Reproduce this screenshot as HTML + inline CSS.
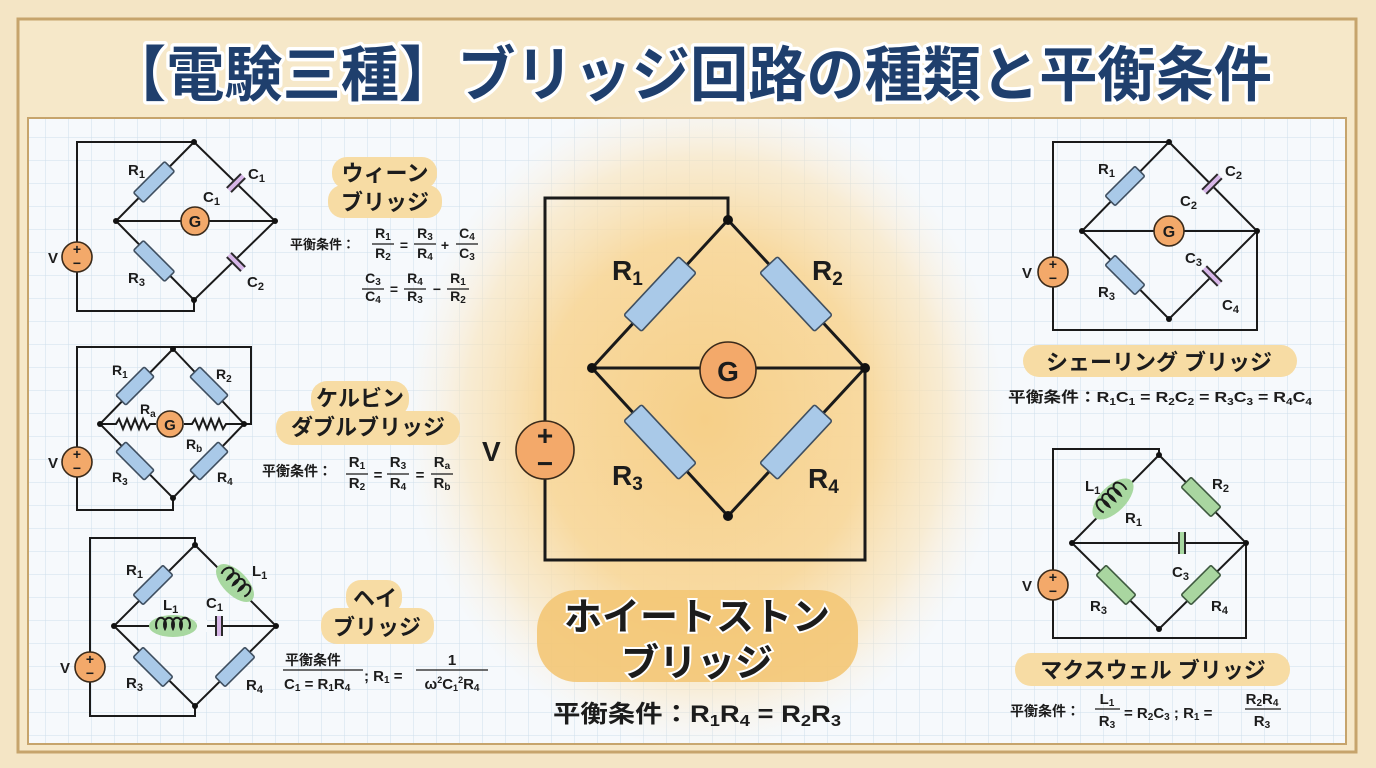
<!DOCTYPE html>
<html><head><meta charset="utf-8"><style>
html,body{margin:0;padding:0;background:#f4e5c5;}
svg{display:block;}
text{font-family:"Liberation Sans","Noto Sans CJK JP",sans-serif;font-weight:bold;fill:#1c1c1c;}
.w{stroke:#1a1a1a;stroke-width:2;fill:none;}
.W{stroke:#1a1a1a;stroke-width:3;fill:none;}
.res{fill:#a9c9e8;stroke:#3f4f60;stroke-width:1.6;}
.gres{fill:#a9d6a0;stroke:#3f5a40;stroke-width:1.6;}
.org{fill:#f3a96a;stroke:#3a2a1a;stroke-width:1.6;}
.cap{stroke:#2a2a2a;stroke-width:2;}
.pill{fill:#f7dca4;}
</style></head><body>
<svg width="1376" height="768" viewBox="0 0 1376 768" xmlns="http://www.w3.org/2000/svg">
<defs>
<pattern id="grid" width="23" height="23" patternUnits="userSpaceOnUse">
<rect width="23" height="23" fill="#f6f9fc"/>
<path d="M23 0V23M0 23H23" stroke="#cfdeeb" stroke-width="1" fill="none"/>
</pattern>
<radialGradient id="glow" cx="0.5" cy="0.5" r="0.5">
<stop offset="0" stop-color="#f6cf88"/>
<stop offset="0.55" stop-color="#f8d89c" stop-opacity="0.95"/>
<stop offset="0.8" stop-color="#f9e3b8" stop-opacity="0.6"/>
<stop offset="1" stop-color="#fbeedb" stop-opacity="0"/>
</radialGradient>
</defs>
<rect width="1376" height="768" fill="#f4e5c5"/>
<rect x="18" y="19" width="1338" height="733" fill="#f6e8c9" stroke="#c6a46c" stroke-width="3"/>
<rect x="28" y="118" width="1318" height="626" fill="url(#grid)" stroke="#c6a46c" stroke-width="2"/>
<ellipse cx="705" cy="420" rx="300" ry="330" fill="url(#glow)"/>

<!-- Title -->
<text x="690" y="96" text-anchor="middle" font-size="60" textLength="1164" lengthAdjust="spacingAndGlyphs" style="fill:#1f3f6d;stroke:#ffffff;stroke-width:7;paint-order:stroke;stroke-linejoin:round">【電験三種】ブリッジ回路の種類と平衡条件</text>

<!-- ===== MAIN Wheatstone ===== -->
<g>
<polyline class="W" points="728,220 728,198 545,198 545,560 865,560 865,368"/>
<polyline class="W" points="728,220 592,368 728,516 865,368 728,220"/>
<line class="W" x1="592" y1="368" x2="865" y2="368"/>
<circle cx="728" cy="220" r="5" fill="#111"/><circle cx="592" cy="368" r="5" fill="#111"/>
<circle cx="865" cy="368" r="5" fill="#111"/><circle cx="728" cy="516" r="5" fill="#111"/>
<g transform="translate(660,294) rotate(-47)"><rect class="res" x="-40" y="-12" width="80" height="24" rx="2"/></g>
<g transform="translate(796,294) rotate(47)"><rect class="res" x="-40" y="-12" width="80" height="24" rx="2"/></g>
<g transform="translate(660,442) rotate(47)"><rect class="res" x="-40" y="-12" width="80" height="24" rx="2"/></g>
<g transform="translate(796,442) rotate(-47)"><rect class="res" x="-40" y="-12" width="80" height="24" rx="2"/></g>
<circle class="org" cx="728" cy="370" r="28" stroke-width="2"/>
<text x="728" y="381" text-anchor="middle" font-size="28">G</text>
<circle class="org" cx="545" cy="450" r="29" stroke-width="2"/>
<text x="545" y="445" text-anchor="middle" font-size="28">+</text>
<text x="545" y="473" text-anchor="middle" font-size="28">−</text>
<text x="482" y="461" font-size="28">V</text>
<text x="612" y="280" font-size="28">R<tspan font-size="19" dy="5">1</tspan></text>
<text x="812" y="280" font-size="28">R<tspan font-size="19" dy="5">2</tspan></text>
<text x="612" y="485" font-size="28">R<tspan font-size="19" dy="5">3</tspan></text>
<text x="808" y="488" font-size="28">R<tspan font-size="19" dy="5">4</tspan></text>
<rect x="537" y="590" width="321" height="92" rx="40" fill="#f3c675" opacity="0.9"/>
<text x="697" y="630" text-anchor="middle" font-size="38" style="stroke:#fff;stroke-width:4;paint-order:stroke">ホイートストン</text>
<text x="697" y="676" text-anchor="middle" font-size="38" style="stroke:#fff;stroke-width:4;paint-order:stroke">ブリッジ</text>
<text x="553" y="722" font-size="24" textLength="288" lengthAdjust="spacingAndGlyphs">平衡条件：R<tspan font-size="16" dy="4">1</tspan><tspan dy="-4">R</tspan><tspan font-size="16" dy="4">4</tspan><tspan dy="-4"> = R</tspan><tspan font-size="16" dy="4">2</tspan><tspan dy="-4">R</tspan><tspan font-size="16" dy="4">3</tspan></text>
</g>

<!-- ===== Wien ===== -->
<g>
<polyline class="w" points="194,142 77,142 77,311 194,311 194,300"/>
<polyline class="w" points="194,142 116,221 194,300 275,221 194,142"/>
<line class="w" x1="116" y1="221" x2="275" y2="221"/>
<circle cx="194" cy="142" r="3" fill="#111"/><circle cx="116" cy="221" r="3" fill="#111"/><circle cx="275" cy="221" r="3" fill="#111"/><circle cx="194" cy="300" r="3" fill="#111"/>
<g transform="translate(154,182) rotate(-45)"><rect class="res" x="-22" y="-7" width="44" height="14" rx="1.5"/></g>
<g transform="translate(154,261) rotate(45)"><rect class="res" x="-22" y="-7" width="44" height="14" rx="1.5"/></g>
<g transform="translate(236,183) rotate(45)"><rect x="-4" y="-10" width="8" height="20" fill="#d7b6e8"/><line class="cap" x1="-3" y1="-10" x2="-3" y2="10"/><line class="cap" x1="3" y1="-10" x2="3" y2="10"/></g>
<g transform="translate(236,262) rotate(-45)"><rect x="-4" y="-10" width="8" height="20" fill="#d7b6e8"/><line class="cap" x1="-3" y1="-10" x2="-3" y2="10"/><line class="cap" x1="3" y1="-10" x2="3" y2="10"/></g>
<circle class="org" cx="195" cy="221" r="14"/><text x="195" y="227" text-anchor="middle" font-size="16">G</text>
<circle class="org" cx="77" cy="257" r="15"/><text x="77" y="254" text-anchor="middle" font-size="14">+</text><text x="77" y="268" text-anchor="middle" font-size="14">−</text>
<text x="48" y="263" font-size="15">V</text>
<text x="128" y="175" font-size="15">R<tspan font-size="11" dy="3">1</tspan></text>
<text x="248" y="179" font-size="15">C<tspan font-size="11" dy="3">1</tspan></text>
<text x="203" y="202" font-size="15">C<tspan font-size="11" dy="3">1</tspan></text>
<text x="128" y="283" font-size="15">R<tspan font-size="11" dy="3">3</tspan></text>
<text x="247" y="287" font-size="15">C<tspan font-size="11" dy="3">2</tspan></text>
<rect x="332" y="157" width="105" height="32" rx="15" class="pill"/>
<rect x="328" y="185" width="114" height="33" rx="15" class="pill"/>
<text x="385" y="181" text-anchor="middle" font-size="22">ウィーン</text>
<text x="385" y="210" text-anchor="middle" font-size="22">ブリッジ</text>
<text x="290" y="249" font-size="13">平衡条件：</text>
<g font-size="14" text-anchor="middle">
<text x="383" y="238">R<tspan font-size="10" dy="2">1</tspan></text><text x="383" y="258">R<tspan font-size="10" dy="2">2</tspan></text>
<text x="404" y="250">=</text>
<text x="425" y="238">R<tspan font-size="10" dy="2">3</tspan></text><text x="425" y="258">R<tspan font-size="10" dy="2">4</tspan></text>
<text x="445" y="250">+</text>
<text x="467" y="238">C<tspan font-size="10" dy="2">4</tspan></text><text x="467" y="258">C<tspan font-size="10" dy="2">3</tspan></text>
<text x="373" y="283">C<tspan font-size="10" dy="2">3</tspan></text><text x="373" y="301">C<tspan font-size="10" dy="2">4</tspan></text>
<text x="394" y="294">=</text>
<text x="415" y="283">R<tspan font-size="10" dy="2">4</tspan></text><text x="415" y="301">R<tspan font-size="10" dy="2">3</tspan></text>
<text x="437" y="294">−</text>
<text x="458" y="283">R<tspan font-size="10" dy="2">1</tspan></text><text x="458" y="301">R<tspan font-size="10" dy="2">2</tspan></text>
</g>
<g stroke="#1a1a1a" stroke-width="1.3"><line x1="372" y1="244" x2="394" y2="244"/><line x1="414" y1="244" x2="436" y2="244"/><line x1="456" y1="244" x2="478" y2="244"/>
<line x1="362" y1="289" x2="384" y2="289"/><line x1="404" y1="289" x2="426" y2="289"/><line x1="447" y1="289" x2="469" y2="289"/></g>
</g>

<!-- ===== Kelvin ===== -->
<g>
<polyline class="w" points="77,447 77,347 251,347 251,424 244,424"/>
<polyline class="w" points="77,477 77,510 173,510 173,498"/>
<polyline class="w" points="173,349 100,424 173,498 244,424 173,349"/>
<polyline class="w" points="100,424 116,424 119,419 123,429 127,419 131,429 135,419 139,429 143,419 147,429 150,424 156,424"/>
<polyline class="w" points="184,424 192,424 195,419 199,429 203,419 207,429 211,419 215,429 219,419 223,429 226,424 244,424"/>
<circle cx="173" cy="349" r="3" fill="#111"/><circle cx="100" cy="424" r="3" fill="#111"/><circle cx="244" cy="424" r="3" fill="#111"/><circle cx="173" cy="498" r="3" fill="#111"/>
<g transform="translate(135,386) rotate(-45)"><rect class="res" x="-20" y="-7" width="40" height="14" rx="1.5"/></g>
<g transform="translate(209,386) rotate(45)"><rect class="res" x="-20" y="-7" width="40" height="14" rx="1.5"/></g>
<g transform="translate(135,461) rotate(45)"><rect class="res" x="-20" y="-7" width="40" height="14" rx="1.5"/></g>
<g transform="translate(209,461) rotate(-45)"><rect class="res" x="-20" y="-7" width="40" height="14" rx="1.5"/></g>
<circle class="org" cx="170" cy="424" r="13"/><text x="170" y="430" text-anchor="middle" font-size="15">G</text>
<circle class="org" cx="77" cy="462" r="15"/><text x="77" y="459" text-anchor="middle" font-size="14">+</text><text x="77" y="473" text-anchor="middle" font-size="14">−</text>
<text x="48" y="468" font-size="15">V</text>
<text x="112" y="375" font-size="14">R<tspan font-size="10" dy="3">1</tspan></text>
<text x="216" y="379" font-size="14">R<tspan font-size="10" dy="3">2</tspan></text>
<text x="140" y="414" font-size="14">R<tspan font-size="10" dy="3">a</tspan></text>
<text x="186" y="449" font-size="14">R<tspan font-size="10" dy="3">b</tspan></text>
<text x="112" y="482" font-size="14">R<tspan font-size="10" dy="3">3</tspan></text>
<text x="217" y="482" font-size="14">R<tspan font-size="10" dy="3">4</tspan></text>
<rect x="311" y="381" width="98" height="36" rx="16" class="pill"/>
<rect x="276" y="411" width="184" height="34" rx="16" class="pill"/>
<text x="360" y="406" text-anchor="middle" font-size="22">ケルビン</text>
<text x="368" y="435" text-anchor="middle" font-size="22">ダブルブリッジ</text>
<text x="262" y="476" font-size="14">平衡条件：</text>
<g font-size="15" text-anchor="middle">
<text x="357" y="467">R<tspan font-size="10" dy="2">1</tspan></text><text x="357" y="488">R<tspan font-size="10" dy="2">2</tspan></text>
<text x="378" y="480">=</text>
<text x="398" y="467">R<tspan font-size="10" dy="2">3</tspan></text><text x="398" y="488">R<tspan font-size="10" dy="2">4</tspan></text>
<text x="420" y="480">=</text>
<text x="442" y="467">R<tspan font-size="10" dy="2">a</tspan></text><text x="442" y="488">R<tspan font-size="10" dy="2">b</tspan></text>
</g>
<g stroke="#1a1a1a" stroke-width="1.3"><line x1="346" y1="474" x2="368" y2="474"/><line x1="387" y1="474" x2="409" y2="474"/><line x1="431" y1="474" x2="453" y2="474"/></g>
</g>

<!-- ===== Hay ===== -->
<g>
<polyline class="w" points="195,545 195,538 90,538 90,716 195,716 195,706"/>
<polyline class="w" points="195,545 114,626 195,706 276,626 195,545"/>
<line class="w" x1="114" y1="626" x2="276" y2="626"/>
<circle cx="195" cy="545" r="3" fill="#111"/><circle cx="114" cy="626" r="3" fill="#111"/><circle cx="276" cy="626" r="3" fill="#111"/><circle cx="195" cy="706" r="3" fill="#111"/>
<g transform="translate(153,585) rotate(-45)"><rect class="res" x="-21" y="-7" width="42" height="14" rx="1.5"/></g>
<g transform="translate(153,667) rotate(45)"><rect class="res" x="-21" y="-7" width="42" height="14" rx="1.5"/></g>
<g transform="translate(235,667) rotate(-45)"><rect class="res" x="-21" y="-7" width="42" height="14" rx="1.5"/></g>
<g transform="translate(235,583) rotate(45)"><ellipse rx="24" ry="12" fill="#a8d8a0"/><path class="w" stroke-width="1.6" d="M-16,3 a5,7 0 1 1 8,0 a5,7 0 1 1 8,0 a5,7 0 1 1 8,0 a5,7 0 1 1 8,0"/></g>
<g transform="translate(173,626)"><ellipse rx="24" ry="11" fill="#a8d8a0"/><path class="w" stroke-width="1.6" d="M-16,3 a5,7 0 1 1 8,0 a5,7 0 1 1 8,0 a5,7 0 1 1 8,0 a5,7 0 1 1 8,0"/></g>
<rect x="197" y="620" width="10" height="12" fill="#f6f9fc"/>
<g transform="translate(219,626)"><rect x="-4" y="-10" width="8" height="20" fill="#d7b6e8"/><line class="cap" x1="-3" y1="-10" x2="-3" y2="10"/><line class="cap" x1="3" y1="-10" x2="3" y2="10"/></g>
<circle class="org" cx="90" cy="667" r="15"/><text x="90" y="664" text-anchor="middle" font-size="14">+</text><text x="90" y="678" text-anchor="middle" font-size="14">−</text>
<text x="60" y="673" font-size="15">V</text>
<text x="126" y="575" font-size="15">R<tspan font-size="11" dy="3">1</tspan></text>
<text x="252" y="576" font-size="15">L<tspan font-size="11" dy="3">1</tspan></text>
<text x="163" y="610" font-size="15">L<tspan font-size="11" dy="3">1</tspan></text>
<text x="206" y="608" font-size="15">C<tspan font-size="11" dy="3">1</tspan></text>
<text x="126" y="688" font-size="15">R<tspan font-size="11" dy="3">3</tspan></text>
<text x="246" y="690" font-size="15">R<tspan font-size="11" dy="3">4</tspan></text>
<rect x="346" y="580" width="56" height="34" rx="15" class="pill"/>
<rect x="321" y="608" width="113" height="36" rx="16" class="pill"/>
<text x="375" y="606" text-anchor="middle" font-size="22">ヘイ</text>
<text x="377" y="635" text-anchor="middle" font-size="22">ブリッジ</text>
<text x="285" y="665" font-size="14">平衡条件</text>
<line x1="283" y1="670" x2="363" y2="670" stroke="#1a1a1a" stroke-width="1.3"/>
<text x="284" y="689" font-size="15">C<tspan font-size="10" dy="2">1</tspan><tspan dy="-2"> = R</tspan><tspan font-size="10" dy="2">1</tspan><tspan dy="-2">R</tspan><tspan font-size="10" dy="2">4</tspan></text>
<text x="364" y="681" font-size="15">; R<tspan font-size="10" dy="2">1</tspan><tspan dy="-2"> =</tspan></text>
<text x="452" y="665" text-anchor="middle" font-size="15">1</text>
<line x1="416" y1="670" x2="488" y2="670" stroke="#1a1a1a" stroke-width="1.3"/>
<text x="452" y="689" text-anchor="middle" font-size="15">ω<tspan font-size="9" dy="-6">2</tspan><tspan dy="6">C</tspan><tspan font-size="9" dy="2">1</tspan><tspan font-size="9" dy="-8">2</tspan><tspan dy="6">R</tspan><tspan font-size="10" dy="2">4</tspan></text>
</g>

<!-- ===== Schering ===== -->
<g>
<polyline class="w" points="1169,142 1053,142 1053,330 1257,330 1257,231"/>
<polyline class="w" points="1169,142 1082,231 1169,319 1257,231 1169,142"/>
<line class="w" x1="1082" y1="231" x2="1257" y2="231"/>
<circle cx="1169" cy="142" r="3" fill="#111"/><circle cx="1082" cy="231" r="3" fill="#111"/><circle cx="1257" cy="231" r="3" fill="#111"/><circle cx="1169" cy="319" r="3" fill="#111"/>
<g transform="translate(1125,186) rotate(-45)"><rect class="res" x="-21" y="-7" width="42" height="14" rx="1.5"/></g>
<g transform="translate(1125,275) rotate(45)"><rect class="res" x="-21" y="-7" width="42" height="14" rx="1.5"/></g>
<g transform="translate(1212,184) rotate(45)"><rect x="-4" y="-11" width="8" height="22" fill="#d7b6e8"/><line class="cap" x1="-3" y1="-11" x2="-3" y2="11"/><line class="cap" x1="3" y1="-11" x2="3" y2="11"/></g>
<g transform="translate(1212,276) rotate(-45)"><rect x="-4" y="-11" width="8" height="22" fill="#d7b6e8"/><line class="cap" x1="-3" y1="-11" x2="-3" y2="11"/><line class="cap" x1="3" y1="-11" x2="3" y2="11"/></g>
<circle class="org" cx="1169" cy="231" r="15"/><text x="1169" y="237" text-anchor="middle" font-size="16">G</text>
<circle class="org" cx="1053" cy="272" r="15"/><text x="1053" y="269" text-anchor="middle" font-size="14">+</text><text x="1053" y="283" text-anchor="middle" font-size="14">−</text>
<text x="1022" y="278" font-size="15">V</text>
<text x="1098" y="174" font-size="15">R<tspan font-size="11" dy="3">1</tspan></text>
<text x="1225" y="176" font-size="15">C<tspan font-size="11" dy="3">2</tspan></text>
<text x="1180" y="206" font-size="15">C<tspan font-size="11" dy="3">2</tspan></text>
<text x="1185" y="263" font-size="15">C<tspan font-size="11" dy="3">3</tspan></text>
<text x="1222" y="310" font-size="15">C<tspan font-size="11" dy="3">4</tspan></text>
<text x="1098" y="297" font-size="15">R<tspan font-size="11" dy="3">3</tspan></text>
<rect x="1023" y="345" width="274" height="32" rx="16" class="pill"/>
<text x="1159" y="370" text-anchor="middle" font-size="22">シェーリング ブリッジ</text>
<text x="1008" y="402" font-size="15" textLength="304" lengthAdjust="spacingAndGlyphs">平衡条件：R<tspan font-size="10" dy="3">1</tspan><tspan dy="-3">C</tspan><tspan font-size="10" dy="3">1</tspan><tspan dy="-3"> = R</tspan><tspan font-size="10" dy="3">2</tspan><tspan dy="-3">C</tspan><tspan font-size="10" dy="3">2</tspan><tspan dy="-3"> = R</tspan><tspan font-size="10" dy="3">3</tspan><tspan dy="-3">C</tspan><tspan font-size="10" dy="3">3</tspan><tspan dy="-3"> = R</tspan><tspan font-size="10" dy="3">4</tspan><tspan dy="-3">C</tspan><tspan font-size="10" dy="3">4</tspan></text>
</g>

<!-- ===== Maxwell ===== -->
<g>
<polyline class="w" points="1159,455 1159,449 1053,449 1053,638 1246,638 1246,543"/>
<polyline class="w" points="1159,455 1072,543 1159,629 1246,543 1159,455"/>
<line class="w" x1="1072" y1="543" x2="1246" y2="543"/>
<circle cx="1159" cy="455" r="3" fill="#111"/><circle cx="1072" cy="543" r="3" fill="#111"/><circle cx="1246" cy="543" r="3" fill="#111"/><circle cx="1159" cy="629" r="3" fill="#111"/>
<g transform="translate(1113,499) rotate(-45)"><ellipse rx="26" ry="13" fill="#a8d8a0"/><path class="w" stroke-width="1.6" d="M-16,3 a5,8 0 1 1 8,0 a5,8 0 1 1 8,0 a5,8 0 1 1 8,0 a5,8 0 1 1 8,0"/></g>
<g transform="translate(1201,497) rotate(45)"><rect class="gres" x="-21" y="-7" width="42" height="14" rx="1.5"/></g>
<g transform="translate(1116,585) rotate(45)"><rect class="gres" x="-21" y="-7" width="42" height="14" rx="1.5"/></g>
<g transform="translate(1201,585) rotate(-45)"><rect class="gres" x="-21" y="-7" width="42" height="14" rx="1.5"/></g>
<g transform="translate(1182,543)"><rect x="-4" y="-11" width="8" height="22" fill="#a8d8a0"/><line class="cap" x1="-3" y1="-11" x2="-3" y2="11"/><line class="cap" x1="3" y1="-11" x2="3" y2="11"/></g>
<circle class="org" cx="1053" cy="585" r="15"/><text x="1053" y="582" text-anchor="middle" font-size="14">+</text><text x="1053" y="596" text-anchor="middle" font-size="14">−</text>
<text x="1022" y="591" font-size="15">V</text>
<text x="1085" y="491" font-size="15">L<tspan font-size="11" dy="3">1</tspan></text>
<text x="1125" y="523" font-size="15">R<tspan font-size="11" dy="3">1</tspan></text>
<text x="1212" y="489" font-size="15">R<tspan font-size="11" dy="3">2</tspan></text>
<text x="1172" y="577" font-size="15">C<tspan font-size="11" dy="3">3</tspan></text>
<text x="1090" y="611" font-size="15">R<tspan font-size="11" dy="3">3</tspan></text>
<text x="1211" y="611" font-size="15">R<tspan font-size="11" dy="3">4</tspan></text>
<rect x="1015" y="653" width="275" height="33" rx="16" class="pill"/>
<text x="1153" y="678" text-anchor="middle" font-size="22">マクスウェル ブリッジ</text>
<text x="1010" y="716" font-size="14">平衡条件：</text>
<text x="1107" y="704" text-anchor="middle" font-size="15">L<tspan font-size="10" dy="2">1</tspan></text>
<line x1="1095" y1="709" x2="1120" y2="709" stroke="#1a1a1a" stroke-width="1.3"/>
<text x="1107" y="726" text-anchor="middle" font-size="15">R<tspan font-size="10" dy="2">3</tspan></text>
<text x="1124" y="718" font-size="15">= R<tspan font-size="10" dy="2">2</tspan><tspan dy="-2">C</tspan><tspan font-size="10" dy="2">3</tspan><tspan dy="-2"> ; R</tspan><tspan font-size="10" dy="2">1</tspan><tspan dy="-2"> =</tspan></text>
<text x="1262" y="704" text-anchor="middle" font-size="15">R<tspan font-size="10" dy="2">2</tspan><tspan dy="-2">R</tspan><tspan font-size="10" dy="2">4</tspan></text>
<line x1="1245" y1="709" x2="1281" y2="709" stroke="#1a1a1a" stroke-width="1.3"/>
<text x="1262" y="726" text-anchor="middle" font-size="15">R<tspan font-size="10" dy="2">3</tspan></text>
</g>
</svg>
</body></html>
